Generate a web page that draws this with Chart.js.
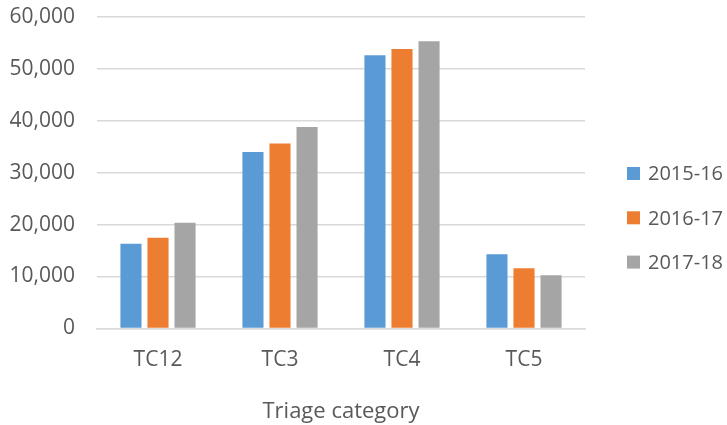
<!DOCTYPE html>
<html>
<head>
<meta charset="utf-8">
<script src="https://cdn.jsdelivr.net/npm/chart.js@4"></script>
<style>
html,body{margin:0;padding:0;background:#fff;}
#wrap{width:727px;height:425px;position:relative;}
</style>
</head>
<body>
<div id="wrap"><canvas id="c"></canvas></div>
<script>
const categories = ["TC12", "TC3", "TC4", "TC5"];
const seriesNames = ["2015-16", "2016-17", "2017-18"];
const values2015 = [16300, 33970, 52610, 14300];
const values2016 = [17460, 35650, 53840, 11570];
const values2017 = [20360, 38810, 55320, 10220];
const yTicks = [0, 10000, 20000, 30000, 40000, 50000, 60000];
const colors = ["#5B9BD5", "#ED7D31", "#A5A5A5"];

const FONT = "'Open Sans', sans-serif";
const TXT = "#595959";

const sideLegend = {
  id: 'sideLegend',
  afterDraw(chart) {
    const ctx = chart.ctx;
    const ds = chart.data.datasets;
    const x0 = 627, yC = 173.5, step = 44.3, box = 13;
    ctx.save();
    ctx.font = "20px " + FONT;
    ctx.textBaseline = 'middle';
    ctx.textAlign = 'left';
    ds.forEach((d, i) => {
      const y = yC + i * step;
      ctx.fillStyle = d.backgroundColor;
      ctx.fillRect(x0, y - box / 2, box, box);
      ctx.fillStyle = TXT;
      ctx.fillText(d.label, x0 + 21, y + 1);
    });
    ctx.restore();
  }
};

new Chart(document.getElementById('c'), {
  type: 'bar',
  data: {
    labels: categories,
    datasets: [values2015, values2016, values2017].map((v, i) => ({
      label: seriesNames[i],
      data: v,
      backgroundColor: colors[i],
      borderWidth: 0,
      categoryPercentage: 0.665,
      barPercentage: 0.78
    }))
  },
  options: {
    responsive: true,
    maintainAspectRatio: false,
    animation: false,
    layout: { padding: { top: 17, left: 4, right: 142, bottom: 0 } },
    plugins: {
      tooltip: { enabled: false },
      legend: { display: false }
    },
    scales: {
      x: {
        grid: { display: false, drawTicks: false },
        border: { display: true, color: '#D9D9D9', width: 1.5 },
        ticks: { color: TXT, font: { family: FONT, size: 21 }, padding: 19 },
        title: { display: true, text: 'Triage category', color: TXT, font: { family: FONT, size: 22 }, padding: { top: 7, bottom: 0 } }
      },
      y: {
        min: 0,
        max: 60000,
        afterBuildTicks: (s) => { s.ticks = yTicks.map(v => ({ value: v })); },
        afterFit: (s) => { s.width = 93; s.paddingTop = 0; s.paddingBottom = 0; },
        grid: { color: '#D9D9D9', lineWidth: 1.5, drawTicks: false },
        border: { display: false },
        ticks: {
          color: TXT,
          font: { family: FONT, size: 21 },
          padding: 22,
          callback: (v) => v.toLocaleString('en-US')
        }
      }
    }
  },
  plugins: [sideLegend]
});
</script>
</body>
</html>
